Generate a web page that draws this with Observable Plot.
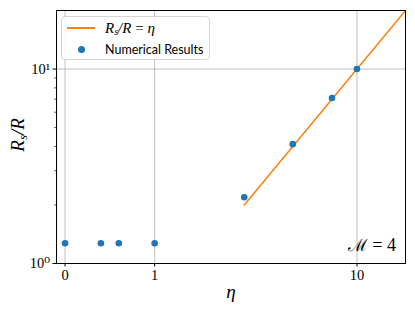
<!DOCTYPE html>
<html>
<head>
<meta charset="utf-8">
<script src="https://cdn.jsdelivr.net/npm/d3@7"></script>
<script src="https://cdn.jsdelivr.net/npm/@observablehq/plot@0.6"></script>
<style>
  html, body { margin: 0; padding: 0; background: #fff; }
  #wrap { position: relative; width: 415px; height: 311px; }
  #legend {
    position: absolute; left: 61px; top: 16px; width: 147px; height: 42px;
    border: 1px solid #d6d6d6; border-radius: 4px; background: rgba(255,255,255,0.8);
    font-family: Lato, "DejaVu Sans", sans-serif; font-size: 12.5px; color: #000;
  }
  .row { position: absolute; left: 0; display: flex; align-items: center; }
  .sw { width: 28px; display: flex; justify-content: center; align-items: center; margin-left: 5px; }
  .lab { margin-left: 10px; white-space: nowrap; }
  .math { font-family: "Liberation Serif", serif; font-style: italic; font-size: 15px; }
</style>
</head>
<body>
<div id="wrap"></div>
<script>
// data
const eta = [0, 0.4, 0.6, 1, 2, 4, 7, 10];
const ratio = [1.27, 1.27, 1.27, 1.27, 2.19, 4.11, 7.1, 10.0];
const lineEta = [2, 20];
const xTicks = [0, 1, 10];
const xTickLabels = ["0", "1", "10"];
const yTicks = [1, 10];
const yTickLabels = ["10\u2070", "10\u00B9"];
const yMinor = [2, 3, 4, 5, 6, 7, 8, 9];

// matplotlib-style symlog (linthresh 2, linscale 1, base 10)
const L = 2, S = 1 / (1 - 1 / 10);
const sl = x => Math.abs(x) <= L ? x * S : Math.sign(x) * L * (S + Math.log10(Math.abs(x) / L));

const points = eta.map((e, i) => ({eta: e, ratio: ratio[i]}));
const xLab = new Map(xTicks.map((t, i) => [sl(t), xTickLabels[i]]));
const yLab = new Map(yTicks.map((t, i) => [t, yTickLabels[i]]));

const serif = "Liberation Serif, DejaVu Serif, serif";
const grid = {stroke: "#b0b0b0", strokeOpacity: 1, strokeWidth: 0.8};

const chart = Plot.plot({
  width: 415, height: 311,
  marginLeft: 56, marginRight: 10, marginTop: 10, marginBottom: 48,
  style: {fontFamily: serif, background: "#fff"},
  x: {type: "linear", domain: [-0.106, sl(20)]},
  y: {type: "log", domain: [1, 20]},
  marks: [
    Plot.gridX(xTicks.map(sl), grid),
    Plot.gridY([10], grid),
    Plot.line(lineEta, {x: d => sl(d), y: d => d, stroke: "#ff7f0e", strokeWidth: 1.5, clip: true}),
    Plot.dot(points, {x: d => sl(d.eta), y: "ratio", r: 3.3, fill: "#1f77b4", stroke: "none"}),
    Plot.axisX(xTicks.map(sl), {tickSize: 3.5, tickPadding: 3, tickFormat: v => xLab.get(v), label: null, fontSize: 14.5, fontFamily: serif, stroke: "#000"}),
    Plot.axisY(yTicks, {tickSize: 3.5, tickPadding: 3, tickFormat: v => yLab.get(v), label: null, fontSize: 14.5, fontFamily: serif}),
    Plot.axisY(yMinor, {tickSize: 2, tickFormat: () => "", label: null, strokeWidth: 0.6}),
    Plot.frame({stroke: "#000", strokeWidth: 1})
  ]
});

const wrap = document.getElementById("wrap");
wrap.appendChild(chart);

const svg = d3.select(chart);

// annotation
const ann = svg.append("text")
  .attr("x", 396).attr("y", 251)
  .attr("text-anchor", "end")
  .attr("font-family", serif).attr("font-size", 18).attr("fill", "#000");
ann.append("tspan").attr("font-family", "DejaVu Serif, serif").attr("font-size", 17).attr("font-weight", "normal").text("\u2133");
ann.append("tspan").text(" = 4");

// axis titles
const yl = svg.append("text")
  .attr("transform", "translate(24,135) rotate(-90)")
  .attr("text-anchor", "middle")
  .attr("font-family", serif).attr("font-style", "italic").attr("font-size", 19).attr("fill", "#000");
yl.append("tspan").text("R");
yl.append("tspan").attr("font-size", 12).attr("dy", 3).attr("dx", 0.5).text("s");
yl.append("tspan").attr("dy", -3).text("/R");

svg.append("text")
  .attr("x", 231).attr("y", 298)
  .attr("text-anchor", "middle")
  .attr("font-family", serif).attr("font-style", "italic").attr("font-size", 19).attr("fill", "#000")
  .text("\u03B7");

// legend
const legend = document.createElement("div");
legend.id = "legend";
legend.innerHTML = `
  <div class="row" style="top:3px;height:16px;">
    <div class="sw"><div style="width:28px;height:1.5px;background:#ff7f0e;"></div></div>
    <div class="lab math">R<sub style="font-size:10px;vertical-align:-2px">s</sub>/R <span style="font-style:normal">=</span> \u03B7</div>
  </div>
  <div class="row" style="top:24px;height:16px;">
    <div class="sw"><div style="width:7px;height:7px;border-radius:50%;background:#1f77b4;"></div></div>
    <div class="lab">Numerical Results</div>
  </div>`;
wrap.appendChild(legend);
</script>
</body>
</html>
